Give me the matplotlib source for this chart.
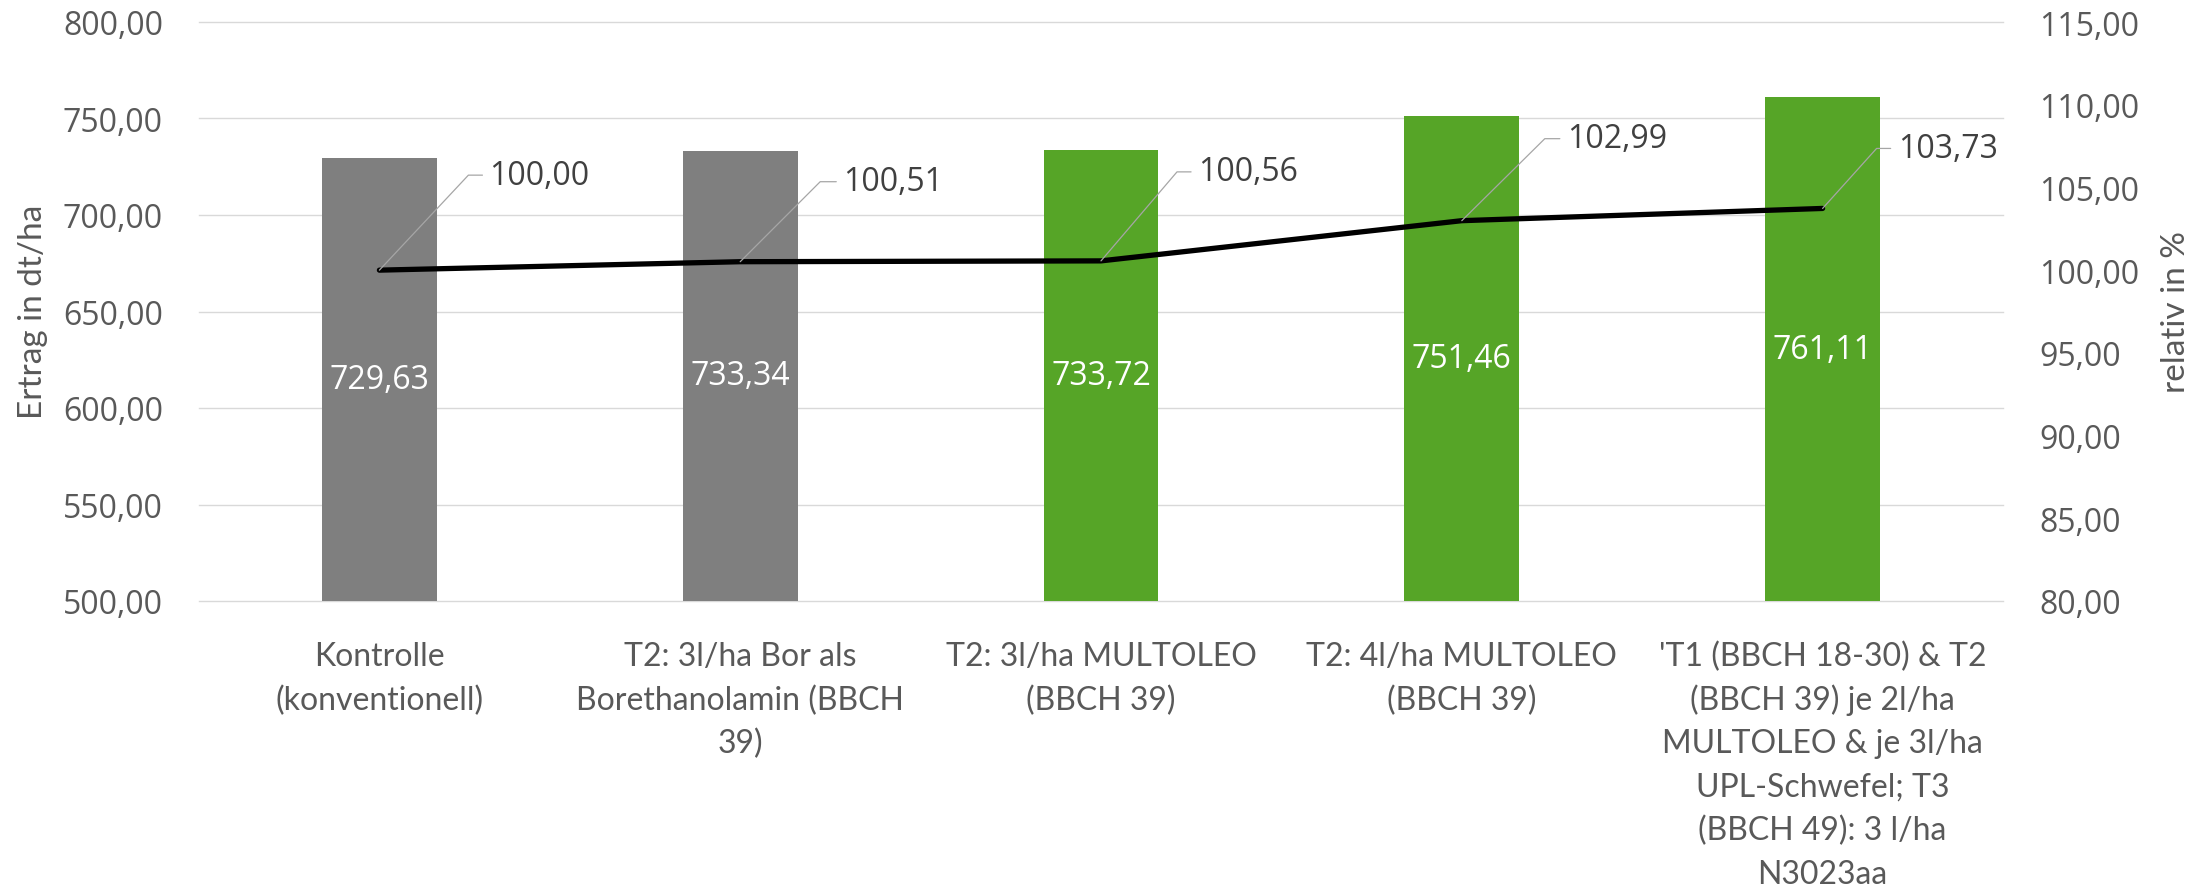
import math
import matplotlib
matplotlib.use("Agg")
import matplotlib.pyplot as plt

# ---- data ----
categories = [
    "Kontrolle\n(konventionell)",
    "T2: 3l/ha Bor als\nBorethanolamin (BBCH\n39)",
    "T2: 3l/ha MULTOLEO\n(BBCH 39)",
    "T2: 4l/ha MULTOLEO\n(BBCH 39)",
    "'T1 (BBCH 18-30) & T2\n(BBCH 39) je 2l/ha\nMULTOLEO & je 3l/ha\nUPL-Schwefel; T3\n(BBCH 49): 3 l/ha\nN3023aa",
]
ertrag = [729.63, 733.34, 733.72, 751.46, 761.11]
relativ = [100.00, 100.51, 100.56, 102.99, 103.73]
left_ticks = [500, 550, 600, 650, 700, 750, 800]
right_ticks = [80, 85, 90, 95, 100, 105, 110, 115]
left_title = "Ertrag in dt/ha"
right_title = "relativ in %"

# ---- style ----
bar_colors = ["#7F7F7F", "#7F7F7F", "#56A527", "#56A527", "#56A527"]
label_text_offsets = [(110, 95), (103, 80), (97, 89), (105, 82), (75, 60)]  # pixels
label_elbow_dx = [89, 80, 76, 83, 54]
NUM = "Open Sans"
TXT = "Lato"
GREY_TXT = "#595959"


def fmt(v):
    return f"{v:.2f}".replace(".", ",")


W, H, DPI = 2211, 895, 100
fig = plt.figure(figsize=(W / DPI, H / DPI), dpi=DPI)
L, R, T, B = 199, 2003, 23, 602
ax = fig.add_axes([L / W, 1 - B / H, (R - L) / W, (B - T) / H])

x = list(range(len(categories)))
ax.bar(x, ertrag, width=0.318, color=bar_colors, zorder=2)
ax.set_xlim(-0.5, len(categories) - 0.5)
ax.set_ylim(left_ticks[0], left_ticks[-1])
ax.set_yticks(left_ticks, [fmt(v) for v in left_ticks], fontfamily=NUM,
              fontsize=23, color=GREY_TXT)
ax.tick_params(axis="y", length=0, pad=26)
ax.set_xticks(x)
ax.tick_params(axis="x", length=0, labelbottom=False)
ax.grid(axis="y", color="#D9D9D9", lw=1.0, zorder=0)
ax.set_axisbelow(True)
for gl in ax.yaxis.get_gridlines():
    gl.set_clip_on(False)
for s in ax.spines.values():
    s.set_visible(False)

# bar value labels
for i, v in enumerate(ertrag):
    ax.text(i, (left_ticks[0] + v) / 2, fmt(v), ha="center", va="center",
            color="white", fontsize=23, fontfamily=NUM, zorder=3)

# category labels, line by line
for i, cat in enumerate(categories):
    for k, line in enumerate(cat.split("\n")):
        ax.annotate(line, xy=(i, 0), xycoords=("data", "axes fraction"),
                    xytext=(0, -(64.5 + 43.5 * k)), textcoords="offset pixels",
                    ha="center", va="baseline", fontsize=23, fontfamily=TXT,
                    color=GREY_TXT)

# secondary axis
ax2 = ax.twinx()
ax2.set_ylim(right_ticks[0], right_ticks[-1])
ax2.set_yticks(right_ticks, [fmt(v) for v in right_ticks], fontfamily=NUM,
               fontsize=23, color=GREY_TXT)
ax2.tick_params(axis="y", length=0, pad=26)
for s in ax2.spines.values():
    s.set_visible(False)
ax2.plot(x, relativ, color="black", lw=3.8, solid_joinstyle="round",
         solid_capstyle="round", zorder=3)

for i, v in enumerate(relativ):
    tx, ty = label_text_offsets[i]
    ang = math.degrees(math.atan2(ty, label_elbow_dx[i]))
    ax2.annotate(fmt(v), xy=(i, v), xytext=(tx, ty), textcoords="offset pixels",
                 ha="left", va="center", fontsize=23, fontfamily=NUM,
                 color="#404040",
                 arrowprops=dict(arrowstyle="-", color="#A6A6A6", lw=0.9,
                                 shrinkA=3, shrinkB=0, relpos=(0, 0.5),
                                 connectionstyle=f"angle,angleA=0,angleB={ang},rad=0"))

fig.text(33 / W, 1 - 312 / H, left_title, rotation=90, ha="center", va="center",
         fontsize=24, fontfamily=TXT, color=GREY_TXT)
fig.text(2176 / W, 1 - 312 / H, right_title, rotation=90, ha="center",
         va="center", fontsize=24, fontfamily=TXT, color=GREY_TXT)

fig.savefig("out.png", dpi=DPI, facecolor="white")
